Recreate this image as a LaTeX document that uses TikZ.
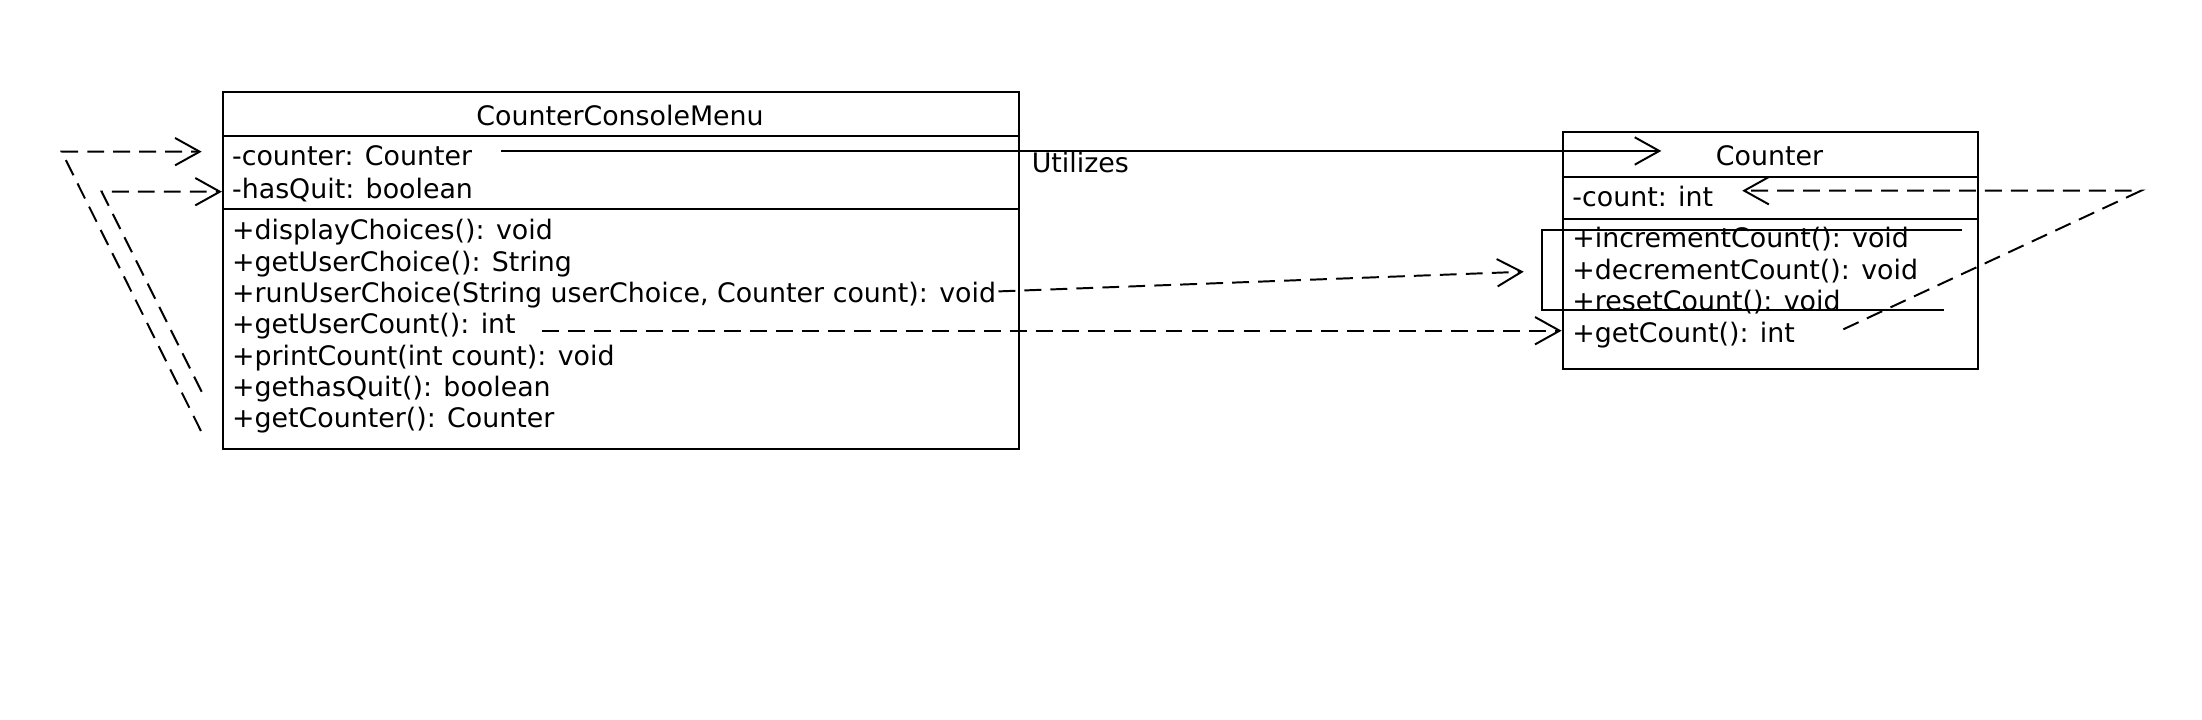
\documentclass[tikz,border=0pt]{standalone}
\usepackage{fontspec}
\setmainfont{DejaVu Sans}
\usetikzlibrary{arrows.meta}

\begin{document}
\begin{tikzpicture}[%
  x = 1pt, y = -1pt, line width = 1.4pt,
  box/.style = {draw, anchor = north west, inner sep = 0pt},
  member/.style = {anchor = base west, inner sep = 0pt},
  classname/.style = {anchor = base, inner sep = 0pt},
  assoc/.style = {-{Straight Barb[length = 17.5pt, width = 19.5pt]}},
  dep/.style = {dash pattern = on 12pt off 6.5pt, -{Straight Barb[length = 17.5pt, width = 19.5pt]}},
  every node/.style = {font = \fontsize{19.1}{22.5}\selectfont}]
  \useasboundingbox (0, 0) rectangle (1568, 512.7);

  % classes
  \node[box, minimum width = 567pt, minimum height = 254pt] (menu) at (158, 65) {};
  \node[box, minimum width = 296pt, minimum height = 169pt] (counter) at (1112, 93) {};
  \draw (menu.west |- 0, 97) -- (menu.east |- 0, 97);
  \draw (menu.west |- 0, 149) -- (menu.east |- 0, 149);
  \draw (counter.west |- 0, 126) -- (counter.east |- 0, 126);
  \draw (counter.west |- 0, 156) -- (counter.east |- 0, 156);

  \node[classname] (menuName) at (441.5, 89.5) {CounterConsoleMenu};
  \node[member] (fCounter) at (164.6, 118.2) {-counter: Counter};
  \node[member] (fQuit) at (164.6, 141.2) {-hasQuit: boolean};
  \node[member] (mDisplay) at (164.6, 170.9) {+displayChoices(): void};
  \node[member] (mChoice) at (164.6, 193.2) {+getUserChoice(): String};
  \node[member] (mRun) at (164.6, 215.5) {+runUserChoice(String userChoice, Counter count): void};
  \node[member] (mUserCount) at (164.6, 237.8) {+getUserCount(): int};
  \node[member] (mPrint) at (164.6, 260.1) {+printCount(int count): void};
  \node[member] (mQuit) at (164.6, 282.4) {+gethasQuit(): boolean};
  \node[member] (mGetCounter) at (164.6, 304.7) {+getCounter(): Counter};

  \node[classname] (counterName) at (1260, 117.5) {Counter};
  \node[member] (fCount) at (1119, 147.2) {-count: int};
  \node[member] (mInc) at (1119, 176.1) {+incrementCount(): void};
  \node[member] (mDec) at (1119, 198.7) {+decrementCount(): void};
  \node[member] (mReset) at (1119, 221.3) {+resetCount(): void};
  \node[member] (mGetCount) at (1119, 243.9) {+getCount(): int};

  % connector ends
  \coordinate (useFrom) at (357, 107.5);
  \coordinate (useTo) at (1183, 107.5);
  \coordinate (runFrom) at (711, 207.5);
  \coordinate (runTo) at (1085, 193.5);
  \coordinate (readFrom) at (386, 235.5);
  \coordinate (readTo) at (counter.west |- 0, 235.5);
  \coordinate (loopA) at (1397, 164);
  \coordinate (loopB) at (1098, 164);
  \coordinate (loopC) at (1098, 221);
  \coordinate (loopD) at (1384, 221);
  \coordinate (selfFrom) at (1312.6, 234.5);
  \coordinate (selfBend) at (1524.6, 135.8);
  \coordinate (selfTo) at (1240.6, 135.8);
  \coordinate (outerFrom) at (143.1, 306.9);
  \coordinate (outerBend) at (43.9, 108);
  \coordinate (outerTo) at (143.6, 108);
  \coordinate (innerFrom) at (143.6, 278.9);
  \coordinate (innerBend) at (72.4, 136.5);
  \coordinate (innerTo) at (menu.west |- 0, 136.5);

  % relations
  \draw[assoc] (useFrom) -- (useTo);
  \node[member] (useLabel) at (734, 123) {Utilizes};
  \draw[dep] (runFrom) -- (runTo);
  \draw[dep] (readFrom) -- (readTo);
  \draw (loopA) -- (loopB) -- (loopC) -- (loopD);
  \draw[dep] (selfFrom) -- (selfBend) -- (selfTo);
  \draw[dep] (outerFrom) -- (outerBend) -- (outerTo);
  \draw[dep] (innerFrom) -- (innerBend) -- (innerTo);
\end{tikzpicture}
\end{document}
